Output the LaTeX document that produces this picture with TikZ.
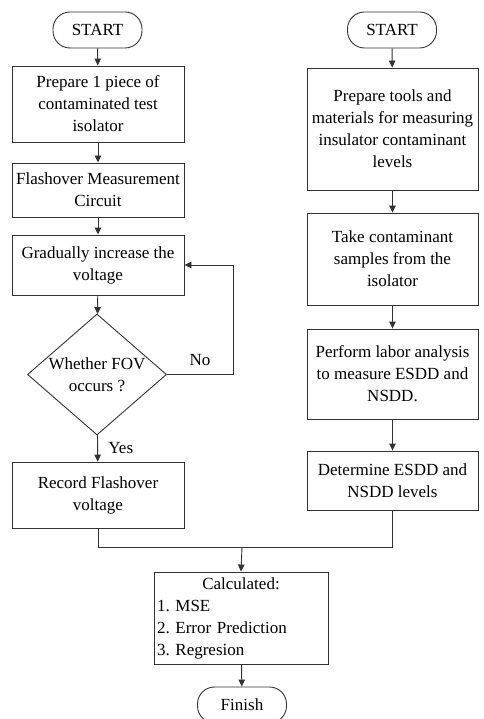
\documentclass[tikz,border=0pt]{standalone}
\usepackage{fontspec}
\setmainfont{Liberation Serif}
\usetikzlibrary{arrows.meta,shapes.geometric}
\begin{document}
\frenchspacing
\begin{tikzpicture}[x=1pt,y=-1pt,
  every node/.style={font=\fontsize{17}{22}\selectfont},
  line/.style={draw=black!80, line width=0.9pt},
  arr/.style={line, -{Triangle[length=7pt,width=6.5pt]}},
  procbox/.style={line, rectangle, inner sep=2pt, align=center},
  term/.style={line, rectangle, rounded corners=17pt, minimum width=89pt, minimum height=36pt, inner sep=0pt},
  dia/.style={line, diamond, minimum width=139pt, minimum height=121pt, inner sep=0pt}
]
\useasboundingbox (0,0) rectangle (483,719);
\fill[white] (0,0) rectangle (483,719);

% left column
\node[term] (sL) at (97.5,30) {START};
\node[procbox, minimum width=172pt, minimum height=76pt] (b1) at (98,104) {Prepare 1 piece of\\contaminated test\\isolator};
\node[procbox, minimum width=172pt, minimum height=54pt] (b2) at (98,190) {Flashover Measurement\\Circuit};
\node[procbox, minimum width=172pt, minimum height=60pt] (b3) at (98,265) {Gradually increase the\\voltage};
\node[dia, label={[align=center]center:Whether FOV\\occurs ?}] (d) at (97,374.5) {};
\node[procbox, minimum width=172pt, minimum height=66pt] (b4) at (98,495) {Record Flashover\\voltage};

% right column
\node[term] (sR) at (392,30) {START};
\node[procbox, minimum width=171pt, minimum height=122pt] (r1) at (392.5,129) {Prepare tools and\\materials for measuring\\insulator contaminant\\levels};
\node[procbox, minimum width=171pt, minimum height=92pt] (r2) at (392.5,259) {Take contaminant\\samples from the\\isolator};
\node[procbox, minimum width=171pt, minimum height=90pt] (r3) at (392.5,374) {Perform labor analysis\\to measure ESDD and\\NSDD.};
\node[procbox, minimum width=171pt, minimum height=59pt] (r4) at (392.5,480.5) {Determine ESDD and\\NSDD levels};

% bottom
\node[line, rectangle, minimum width=174pt, minimum height=92pt, text width=168pt, inner sep=3pt, align=left] (calc) at (241,618)
  {\makebox[168pt]{Calculated:}\\1. MSE\\2. Error Prediction\\3. Regresion};
\node[term] (fin) at (242,705) {Finish};

\coordinate (j) at (242,547);

% connectors
\draw[arr] (sL) -- (b1);
\draw[arr] (b1) -- (b2);
\draw[arr] (b2) -- (b3);
\draw[arr] (b3) -- (d);
\draw[arr] (d) -- node[right=7pt] {Yes} (b4);
\draw[arr] (d.east) -- node[above=5pt] {No} ++(66,0) |- (b3.east);

\draw[arr] (sR) -- (r1);
\draw[arr] (r1) -- (r2);
\draw[arr] (r2) -- (r3);
\draw[arr] (r3) -- (r4);

\draw[line] (b4.south) |- (j);
\draw[line] (r4.south) |- (j);
\draw[arr] (j) -- (calc.north);
\draw[arr] (calc) -- (fin);
\end{tikzpicture}
\end{document}
